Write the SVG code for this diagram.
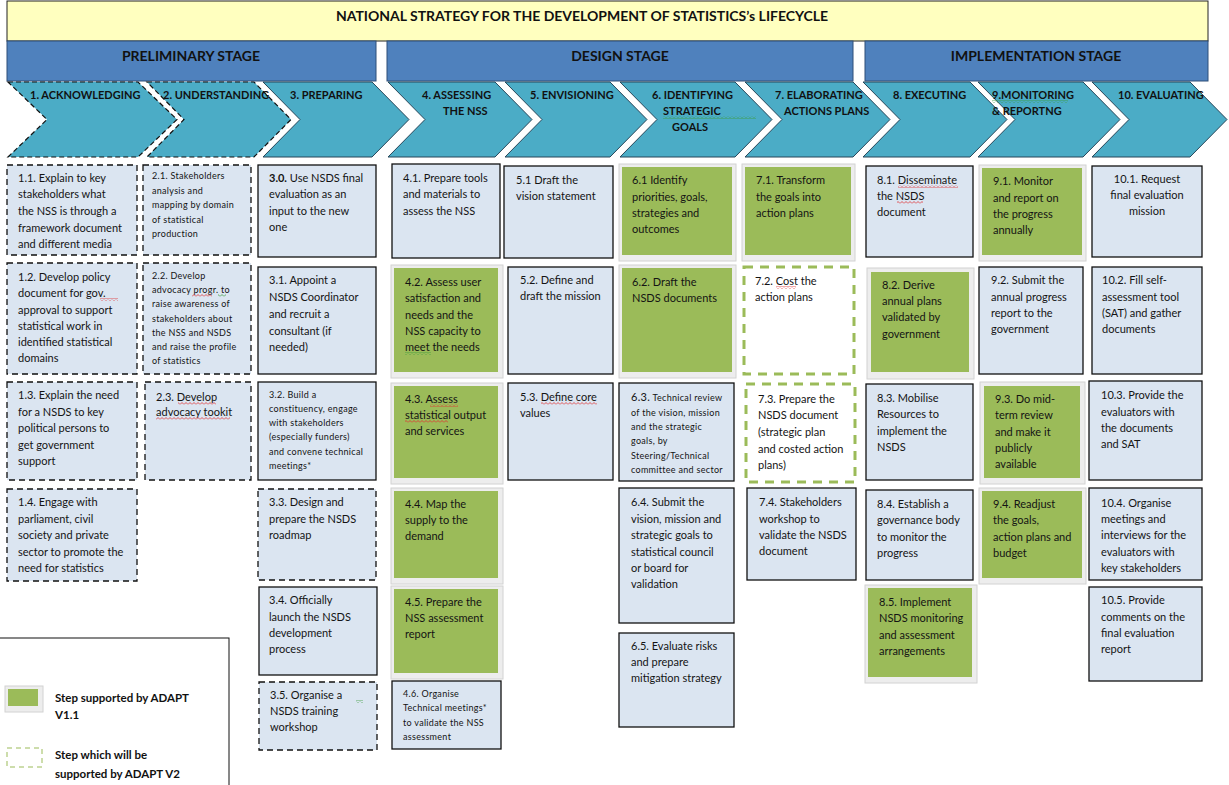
<svg xmlns="http://www.w3.org/2000/svg" width="1229" height="785" viewBox="0 0 1229 785">
  <defs>
    <style>
      .t { font-family: Lato, "Liberation Sans", sans-serif; font-size: 11px; fill: #141414; }
      .s { font-family: Lato, "Liberation Sans", sans-serif; font-size: 9px; letter-spacing: 0.3px; fill: #141414; }
      .b { font-weight: bold; }
      .chl { font-family: Lato, "Liberation Sans", sans-serif; font-size: 11px; font-weight: bold; fill: #111; }
      .stage { font-family: Lato, "Liberation Sans", sans-serif; font-size: 14px; font-weight: bold; fill: #111; text-anchor: middle; }
      .title { font-family: Lato, "Liberation Sans", sans-serif; font-size: 14px; font-weight: bold; fill: #111; text-anchor: middle; }
      .leg { font-family: Lato, "Liberation Sans", sans-serif; font-size: 11.5px; font-weight: bold; fill: #111; }
      .box { fill: #DBE5F1; stroke: #111; stroke-width: 1.3; }
      .dash { fill: #DBE5F1; stroke: #111; stroke-width: 1.3; stroke-dasharray: 6 4; }
      .gdash { fill: #FFFFFF; stroke: #9BBB59; stroke-width: 3; stroke-dasharray: 9 7; }
      .green { fill: #9BBB59; stroke: none; }
      .frame { fill: #EDEDED; stroke: #D2D2D2; stroke-width: 1; }
      .chev { fill: #4BACC6; stroke: #27475A; stroke-width: 1; }
      .chevd { fill: #4BACC6; stroke: #111; stroke-width: 1.2; stroke-dasharray: 5 3; }
      .bar { fill: #4F81BD; stroke: #2F4F78; stroke-width: 1; }
      .redw { fill: url(#waveRed); }
      .grnw { fill: url(#waveGreen); }
    </style>
    <pattern id="waveRed" width="4" height="3" patternUnits="userSpaceOnUse">
      <path d="M0,2.5 L2,0.5 L4,2.5" fill="none" stroke="#E03030" stroke-width="0.8"/>
    </pattern>
    <pattern id="waveGreen" width="4" height="3" patternUnits="userSpaceOnUse">
      <path d="M0,2.5 L2,0.5 L4,2.5" fill="none" stroke="#3A9A3A" stroke-width="0.8"/>
    </pattern>
  </defs>

  <rect width="1229" height="785" fill="#FFFFFF"/>

  <!-- title banner -->
  <g id="title">
    <rect x="7" y="1" width="1201" height="40" fill="#FFFFBF" stroke="#222" stroke-width="1"/>
    <text class="title" x="582" y="21">NATIONAL STRATEGY FOR THE DEVELOPMENT OF STATISTICS’s LIFECYCLE</text>
  </g>

  <!-- stage bars -->
  <g id="stage-preliminary">
    <rect class="bar" x="7" y="41" width="369" height="40"/>
    <text class="stage" x="191" y="61">PRELIMINARY STAGE</text>
  </g>
  <g id="stage-design">
    <rect class="bar" x="387" y="41" width="466" height="40"/>
    <text class="stage" x="620" y="61">DESIGN STAGE</text>
  </g>
  <g id="stage-implementation">
    <rect class="bar" x="865" y="41" width="343" height="40"/>
    <text class="stage" x="1036" y="61">IMPLEMENTATION STAGE</text>
  </g>

  <!-- step chevrons -->
  <g id="chevron-1">
    <polygon class="chevd" points="8,82 138,82 177,119.5 138,157 8,157 47,119.5"/>
    <text class="chl" x="30" y="99">1.  ACKNOWLEDGING</text>
  </g>
  <g id="chevron-2">
    <polygon class="chevd" points="147,82 254,82 291,119.5 254,157 147,157 184,119.5"/>
    <text class="chl" x="163" y="99">2. UNDERSTANDING</text>
  </g>
  <g id="chevron-3">
    <polygon class="chev" points="263,82 372,82 409,119.5 372,157 263,157 300,119.5"/>
    <text class="chl" x="290" y="99">3. PREPARING</text>
  </g>
  <g id="chevron-4">
    <polygon class="chev" points="388,82 495,82 532,119.5 495,157 388,157 425,119.5"/>
    <text class="chl" x="422" y="99">4. ASSESSING</text>
    <text class="chl" x="443" y="115">THE NSS</text>
  </g>
  <g id="chevron-5">
    <polygon class="chev" points="505,82 610,82 647,119.5 610,157 505,157 542,119.5"/>
    <text class="chl" x="530" y="99">5. ENVISIONING</text>
  </g>
  <g id="chevron-6">
    <polygon class="chev" points="620,82 735,82 772,119.5 735,157 620,157 657,119.5"/>
    <text class="chl" x="652" y="99">6. IDENTIFYING</text>
    <text class="chl" x="663" y="115">STRATEGIC</text>
    <text class="chl" x="672" y="131">GOALS</text>
    <rect class="grnw" x="663" y="116" width="93" height="3"/>
  </g>
  <g id="chevron-7">
    <polygon class="chev" points="745,82 853,82 890,119.5 853,157 745,157 782,119.5"/>
    <text class="chl" x="775" y="99">7. ELABORATING</text>
    <text class="chl" x="784" y="115">ACTIONS PLANS</text>
  </g>
  <g id="chevron-8">
    <polygon class="chev" points="863,82 970,82 1007,119.5 970,157 863,157 900,119.5"/>
    <text class="chl" x="893" y="99">8. EXECUTING</text>
  </g>
  <g id="chevron-9">
    <polygon class="chev" points="978,82 1083,82 1120,119.5 1083,157 978,157 1015,119.5"/>
    <text class="chl" x="992" y="99">9.MONITORING</text>
    <text class="chl" x="992" y="115">&amp; REPORTNG</text>
    <rect class="grnw" x="992" y="100" width="76" height="3"/>
  </g>
  <g id="chevron-10">
    <polygon class="chev" points="1092,82 1190,82 1227,119.5 1190,157 1092,157 1129,119.5"/>
    <text class="chl" x="1118" y="99">10. EVALUATING</text>
  </g>

  <!-- column 1 -->
  <g id="step-1-1">
    <rect class="dash" x="7" y="165" width="130" height="90"/>
    <text class="t" x="18" y="182">1.1. Explain to key</text>
    <text class="t" x="18" y="198">stakeholders what</text>
    <text class="t" x="18" y="215">the NSS is through a</text>
    <text class="t" x="18" y="232">framework document</text>
    <text class="t" x="18" y="248">and different media</text>
  </g>
  <g id="step-1-2">
    <rect class="dash" x="7" y="263" width="130" height="111"/>
    <text class="t" x="18" y="281">1.2. Develop policy</text>
    <text class="t" x="18" y="297">document for gov.</text>
    <text class="t" x="18" y="314">approval to support</text>
    <text class="t" x="18" y="330">statistical work in</text>
    <text class="t" x="18" y="346">identified statistical</text>
    <text class="t" x="18" y="362">domains</text>
    <rect class="redw" x="100" y="298" width="18" height="3"/>
  </g>
  <g id="step-1-3">
    <rect class="dash" x="7" y="382" width="130" height="98"/>
    <text class="t" x="18" y="399">1.3. Explain the need</text>
    <text class="t" x="18" y="416">for a NSDS to key</text>
    <text class="t" x="18" y="432">political persons to</text>
    <text class="t" x="18" y="449">get government</text>
    <text class="t" x="18" y="465">support</text>
  </g>
  <g id="step-1-4">
    <rect class="dash" x="7" y="489" width="130" height="92"/>
    <text class="t" x="18" y="506">1.4. Engage with</text>
    <text class="t" x="18" y="523">parliament, civil</text>
    <text class="t" x="18" y="539">society and private</text>
    <text class="t" x="18" y="556">sector to promote the</text>
    <text class="t" x="18" y="572">need for statistics</text>
  </g>

  <!-- column 2 -->
  <g id="step-2-1">
    <rect class="dash" x="143" y="165" width="108" height="90"/>
    <text class="s" x="152" y="179">2.1. Stakeholders</text>
    <text class="s" x="152" y="194">analysis and</text>
    <text class="s" x="152" y="208">mapping  by domain</text>
    <text class="s" x="152" y="223">of statistical</text>
    <text class="s" x="152" y="237">production</text>
  </g>
  <g id="step-2-2">
    <rect class="dash" x="143" y="263" width="108" height="111"/>
    <text class="s" x="152" y="279">2.2. Develop</text>
    <text class="s" x="152" y="293">advocacy progr.  to</text>
    <text class="s" x="152" y="307">raise awareness of</text>
    <text class="s" x="152" y="322">stakeholders  about</text>
    <text class="s" x="152" y="336">the NSS and NSDS</text>
    <text class="s" x="152" y="350">and raise the  profile</text>
    <text class="s" x="152" y="364">of statistics</text>
    <rect class="redw" x="192" y="294" width="20" height="3"/>
    <rect class="grnw" x="218" y="294" width="8" height="3"/>
  </g>
  <g id="step-2-3">
    <rect class="dash" x="145" y="382" width="106" height="98"/>
    <text class="t" x="156" y="401">2.3. Develop</text>
    <text class="t" x="156" y="416">advocacy tookit</text>
    <rect class="redw" x="178" y="402" width="38" height="3"/>
    <rect class="redw" x="156" y="417" width="74" height="3"/>
  </g>

  <!-- column 3 -->
  <g id="step-3-0">
    <rect class="box" x="258" y="165" width="118" height="92"/>
    <text class="t" x="269" y="182"><tspan class="b">3.0.</tspan> Use NSDS final</text>
    <text class="t" x="269" y="198">evaluation as an</text>
    <text class="t" x="269" y="215">input to the new</text>
    <text class="t" x="269" y="231">one</text>
  </g>
  <g id="step-3-1">
    <rect class="box" x="258" y="267" width="118" height="107"/>
    <text class="t" x="269" y="284">3.1. Appoint a</text>
    <text class="t" x="269" y="301">NSDS Coordinator</text>
    <text class="t" x="269" y="318">and recruit a</text>
    <text class="t" x="269" y="335">consultant (if</text>
    <text class="t" x="269" y="351">needed)</text>
  </g>
  <g id="step-3-2">
    <rect class="box" x="258" y="382" width="118" height="98"/>
    <text class="s" x="269" y="398">3.2. Build a</text>
    <text class="s" x="269" y="412">constituency,  engage</text>
    <text class="s" x="269" y="426">with  stakeholders</text>
    <text class="s" x="269" y="440">(especially  funders)</text>
    <text class="s" x="269" y="455">and convene  technical</text>
    <text class="s" x="269" y="469">meetings*</text>
  </g>
  <g id="step-3-3">
    <rect class="dash" x="258" y="489" width="118" height="91"/>
    <text class="t" x="269" y="506">3.3. Design and</text>
    <text class="t" x="269" y="523">prepare the NSDS</text>
    <text class="t" x="269" y="539">roadmap</text>
  </g>
  <g id="step-3-4">
    <rect class="box" x="259" y="587" width="118" height="88"/>
    <text class="t" x="269" y="604">3.4. Officially</text>
    <text class="t" x="269" y="621">launch the NSDS</text>
    <text class="t" x="269" y="637">development</text>
    <text class="t" x="269" y="653">process</text>
  </g>
  <g id="step-3-5">
    <rect class="dash" x="259" y="682" width="118" height="68"/>
    <text class="t" x="270" y="699">3.5. Organise a</text>
    <text class="t" x="270" y="715">NSDS training</text>
    <text class="t" x="270" y="731">workshop</text>
    <rect class="grnw" x="356" y="700" width="7" height="3"/>
  </g>

  <!-- column 4 -->
  <g id="step-4-1">
    <rect class="box" x="392" y="164" width="108" height="94"/>
    <text class="t" x="403" y="182">4.1. Prepare tools</text>
    <text class="t" x="403" y="198">and materials to</text>
    <text class="t" x="403" y="215">assess the NSS</text>
  </g>
  <g id="step-4-2">
    <rect class="frame" x="391" y="265" width="112" height="113"/>
    <rect class="green" x="394" y="268" width="104" height="104"/>
    <text class="t" x="405" y="286">4.2. Assess user</text>
    <text class="t" x="405" y="302">satisfaction and</text>
    <text class="t" x="405" y="319">needs and the</text>
    <text class="t" x="405" y="335">NSS capacity to</text>
    <text class="t" x="405" y="351">meet  the needs</text>
    <rect class="grnw" x="405" y="352" width="26" height="3"/>
  </g>
  <g id="step-4-3">
    <rect class="frame" x="391" y="383" width="112" height="101"/>
    <rect class="green" x="394" y="386" width="104" height="92"/>
    <text class="t" x="405" y="403">4.3. Assess</text>
    <text class="t" x="405" y="419">statistical output</text>
    <text class="t" x="405" y="435">and services</text>
    <rect class="redw" x="430" y="404" width="28" height="3"/>
    <rect class="redw" x="405" y="420" width="43" height="3"/>
  </g>
  <g id="step-4-4">
    <rect class="frame" x="391" y="488" width="112" height="96"/>
    <rect class="green" x="394" y="491" width="104" height="87"/>
    <text class="t" x="405" y="508">4.4. Map the</text>
    <text class="t" x="405" y="524">supply to the</text>
    <text class="t" x="405" y="540">demand</text>
  </g>
  <g id="step-4-5">
    <rect class="frame" x="391" y="586" width="112" height="93"/>
    <rect class="green" x="394" y="589" width="104" height="84"/>
    <text class="t" x="405" y="606">4.5. Prepare the</text>
    <text class="t" x="405" y="622">NSS assessment</text>
    <text class="t" x="405" y="638">report</text>
  </g>
  <g id="step-4-6">
    <rect class="box" x="392" y="681" width="109" height="68"/>
    <text class="s" x="403" y="697">4.6. Organise</text>
    <text class="s" x="403" y="711">Technical  meetings*</text>
    <text class="s" x="403" y="726">to validate  the NSS</text>
    <text class="s" x="403" y="740">assessment</text>
  </g>

  <!-- column 5 -->
  <g id="step-5-1">
    <rect class="box" x="504" y="166" width="109" height="92"/>
    <text class="t" x="516" y="184">5.1 Draft the</text>
    <text class="t" x="516" y="200">vision statement</text>
  </g>
  <g id="step-5-2">
    <rect class="box" x="508" y="267" width="105" height="107"/>
    <text class="t" x="520" y="284">5.2. Define and</text>
    <text class="t" x="520" y="300">draft the mission</text>
  </g>
  <g id="step-5-3">
    <rect class="box" x="508" y="383" width="105" height="97"/>
    <text class="t" x="520" y="401">5.3. Define core</text>
    <text class="t" x="520" y="417">values</text>
    <rect class="redw" x="541" y="402" width="56" height="3"/>
  </g>

  <!-- column 6 -->
  <g id="step-6-1">
    <rect class="frame" x="619" y="164" width="117" height="97"/>
    <rect class="green" x="622" y="167" width="110" height="88"/>
    <text class="t" x="632" y="184">6.1 Identify</text>
    <text class="t" x="632" y="201">priorities, goals,</text>
    <text class="t" x="632" y="217">strategies and</text>
    <text class="t" x="632" y="233">outcomes</text>
  </g>
  <g id="step-6-2">
    <rect class="frame" x="619" y="265" width="117" height="113"/>
    <rect class="green" x="622" y="268" width="110" height="104"/>
    <text class="t" x="632" y="286">6.2. Draft the</text>
    <text class="t" x="632" y="302">NSDS documents</text>
  </g>
  <g id="step-6-3">
    <rect class="box" x="619" y="383" width="115" height="98"/>
    <text class="s" x="631" y="401"><tspan font-size="11">6.3.</tspan> Technical  review</text>
    <text class="s" x="631" y="416">of the  vision,  mission</text>
    <text class="s" x="631" y="430">and the strategic</text>
    <text class="s" x="631" y="444">goals,  by</text>
    <text class="s" x="631" y="459">Steering/Technical</text>
    <text class="s" x="631" y="473">committee  and sector</text>
  </g>
  <g id="step-6-4">
    <rect class="box" x="619" y="488" width="115" height="135"/>
    <text class="t" x="631" y="506">6.4. Submit the</text>
    <text class="t" x="631" y="523">vision, mission and</text>
    <text class="t" x="631" y="539">strategic goals to</text>
    <text class="t" x="631" y="556">statistical council</text>
    <text class="t" x="631" y="572">or board for</text>
    <text class="t" x="631" y="588">validation</text>
  </g>
  <g id="step-6-5">
    <rect class="box" x="619" y="633" width="115" height="94"/>
    <text class="t" x="631" y="650">6.5. Evaluate risks</text>
    <text class="t" x="631" y="666">and prepare</text>
    <text class="t" x="631" y="682">mitigation strategy</text>
  </g>

  <!-- column 7 -->
  <g id="step-7-1">
    <rect class="frame" x="742" y="164" width="113" height="97"/>
    <rect class="green" x="745" y="167" width="106" height="88"/>
    <text class="t" x="756" y="184">7.1. Transform</text>
    <text class="t" x="756" y="201">the goals into</text>
    <text class="t" x="756" y="217">action plans</text>
  </g>
  <g id="step-7-2">
    <rect class="gdash" x="744" y="267" width="110" height="107"/>
    <text class="t" x="755" y="285">7.2. Cost the</text>
    <text class="t" x="755" y="301">action plans</text>
    <rect class="redw" x="776" y="286" width="20" height="3"/>
  </g>
  <g id="step-7-3">
    <rect class="gdash" x="746" y="384" width="109" height="98"/>
    <text class="t" x="758" y="403">7.3. Prepare the</text>
    <text class="t" x="758" y="419">NSDS document</text>
    <text class="t" x="758" y="436">(strategic plan</text>
    <text class="t" x="758" y="453">and costed action</text>
    <text class="t" x="758" y="469">plans)</text>
  </g>
  <g id="step-7-4">
    <rect class="box" x="747" y="488" width="109" height="92"/>
    <text class="t" x="759" y="506">7.4. Stakeholders</text>
    <text class="t" x="759" y="523">workshop to</text>
    <text class="t" x="759" y="539">validate the NSDS</text>
    <text class="t" x="759" y="555">document</text>
  </g>

  <!-- column 8 -->
  <g id="step-8-1">
    <rect class="box" x="866" y="166" width="107" height="91"/>
    <text class="t" x="877" y="184">8.1. Disseminate</text>
    <text class="t" x="877" y="200">the NSDS</text>
    <text class="t" x="877" y="216">document</text>
    <rect class="redw" x="898" y="185" width="60" height="3"/>
    <rect class="redw" x="897" y="201" width="26" height="3"/>
  </g>
  <g id="step-8-2">
    <rect class="frame" x="867" y="268" width="107" height="111"/>
    <rect class="green" x="871" y="272" width="98" height="100"/>
    <text class="t" x="882" y="289">8.2. Derive</text>
    <text class="t" x="882" y="305">annual plans</text>
    <text class="t" x="882" y="321">validated by</text>
    <text class="t" x="882" y="338">government</text>
  </g>
  <g id="step-8-3">
    <rect class="box" x="866" y="384" width="107" height="96"/>
    <text class="t" x="877" y="402">8.3. Mobilise</text>
    <text class="t" x="877" y="418">Resources to</text>
    <text class="t" x="877" y="435">implement the</text>
    <text class="t" x="877" y="451">NSDS</text>
  </g>
  <g id="step-8-4">
    <rect class="box" x="866" y="490" width="107" height="90"/>
    <text class="t" x="877" y="508">8.4. Establish a</text>
    <text class="t" x="877" y="524">governance body</text>
    <text class="t" x="877" y="541">to monitor the</text>
    <text class="t" x="877" y="557">progress</text>
  </g>
  <g id="step-8-5">
    <rect class="frame" x="865" y="585" width="112" height="98"/>
    <rect class="green" x="868" y="588" width="104" height="89"/>
    <text class="t" x="879" y="606">8.5. Implement</text>
    <text class="t" x="879" y="622">NSDS monitoring</text>
    <text class="t" x="879" y="639">and assessment</text>
    <text class="t" x="879" y="655">arrangements</text>
  </g>

  <!-- column 9 -->
  <g id="step-9-1">
    <rect class="frame" x="979" y="165" width="107" height="96"/>
    <rect class="green" x="982" y="168" width="100" height="87"/>
    <text class="t" x="993" y="185">9.1. Monitor</text>
    <text class="t" x="993" y="202">and report on</text>
    <text class="t" x="993" y="218">the progress</text>
    <text class="t" x="993" y="234">annually</text>
  </g>
  <g id="step-9-2">
    <rect class="box" x="979" y="267" width="104" height="107"/>
    <text class="t" x="991" y="284">9.2. Submit the</text>
    <text class="t" x="991" y="301">annual progress</text>
    <text class="t" x="991" y="317">report to the</text>
    <text class="t" x="991" y="333">government</text>
  </g>
  <g id="step-9-3">
    <rect class="frame" x="980" y="382" width="105" height="102"/>
    <rect class="green" x="984" y="386" width="96" height="92"/>
    <text class="t" x="995" y="403">9.3. Do mid-</text>
    <text class="t" x="995" y="419">term review</text>
    <text class="t" x="995" y="436">and make it</text>
    <text class="t" x="995" y="452">publicly</text>
    <text class="t" x="995" y="468">available</text>
  </g>
  <g id="step-9-4">
    <rect class="frame" x="979" y="488" width="107" height="96"/>
    <rect class="green" x="982" y="491" width="100" height="87"/>
    <text class="t" x="993" y="508">9.4. Readjust</text>
    <text class="t" x="993" y="524">the goals,</text>
    <text class="t" x="993" y="541">action plans and</text>
    <text class="t" x="993" y="557">budget</text>
  </g>

  <!-- column 10 -->
  <g id="step-10-1">
    <rect class="box" x="1092" y="166" width="110" height="91"/>
    <text class="t" x="1147" y="183" text-anchor="middle">10.1. Request</text>
    <text class="t" x="1147" y="199" text-anchor="middle">final evaluation</text>
    <text class="t" x="1147" y="215" text-anchor="middle">mission</text>
  </g>
  <g id="step-10-2">
    <rect class="box" x="1092" y="267" width="110" height="107"/>
    <text class="t" x="1102" y="284">10.2. Fill self-</text>
    <text class="t" x="1102" y="301">assessment tool</text>
    <text class="t" x="1102" y="317">(SAT) and gather</text>
    <text class="t" x="1102" y="333">documents</text>
  </g>
  <g id="step-10-3">
    <rect class="box" x="1089" y="381" width="113" height="99"/>
    <text class="t" x="1101" y="399">10.3. Provide the</text>
    <text class="t" x="1101" y="416">evaluators with</text>
    <text class="t" x="1101" y="432">the documents</text>
    <text class="t" x="1101" y="448">and SAT</text>
  </g>
  <g id="step-10-4">
    <rect class="box" x="1089" y="488" width="113" height="92"/>
    <text class="t" x="1101" y="507">10.4. Organise</text>
    <text class="t" x="1101" y="523">meetings and</text>
    <text class="t" x="1101" y="539">interviews for the</text>
    <text class="t" x="1101" y="556">evaluators with</text>
    <text class="t" x="1101" y="572">key stakeholders</text>
  </g>
  <g id="step-10-5">
    <rect class="box" x="1089" y="587" width="113" height="94"/>
    <text class="t" x="1101" y="604">10.5. Provide</text>
    <text class="t" x="1101" y="621">comments on the</text>
    <text class="t" x="1101" y="637">final evaluation</text>
    <text class="t" x="1101" y="653">report</text>
  </g>

  <!-- legend -->
  <g id="legend">
    <rect x="-1" y="638" width="230" height="150" fill="#FFFFFF" stroke="#111" stroke-width="1"/>
    <rect class="frame" x="5" y="686" width="38" height="26"/>
    <rect class="green" x="8" y="689" width="30" height="17"/>
    <text class="leg" x="55" y="702">Step supported by ADAPT</text>
    <text class="leg" x="55" y="719">V1.1</text>
    <rect x="7" y="748" width="35" height="19" fill="none" stroke="#9BBB59" stroke-width="1" stroke-dasharray="5 4"/>
    <text class="leg" x="55" y="759">Step which will be</text>
    <text class="leg" x="55" y="778">supported by ADAPT V2</text>
  </g>

  <!-- no connectors are drawn between steps -->
  <g id="connectors"/>
</svg>
